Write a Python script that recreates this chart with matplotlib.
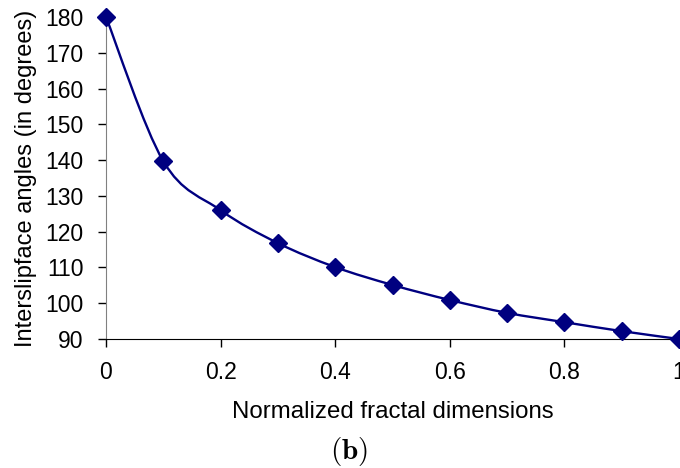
import numpy as np
import matplotlib
matplotlib.use('Agg')
from matplotlib import pyplot as plt
from matplotlib.path import Path
from matplotlib.patches import PathPatch

# values
fractal_dim = [0, 0.1, 0.2, 0.3, 0.4, 0.5, 0.6, 0.7, 0.8, 0.9, 1.0]
angles = [180, 139.7, 126.0, 116.8, 110.1, 105.1, 100.9, 97.3, 94.7, 92.2, 90]
xticks = [0, 0.2, 0.4, 0.6, 0.8, 1]
yticks = [90, 100, 110, 120, 130, 140, 150, 160, 170, 180]

plt.rcParams['font.family'] = ['Liberation Sans', 'DejaVu Sans']
plt.rcParams['mathtext.fontset'] = 'cm'

navy = '#000080'

fig = plt.figure(figsize=(6.8, 4.68), dpi=100)
ax = fig.add_axes([106/680, 1-339/468, 573/680, (339-17)/468])

# smooth curve (Catmull-Rom style, like a spreadsheet smoothed line)
x = np.array(fractal_dim)
y = np.array(angles)
verts = [(x[0], y[0])]
codes = [Path.MOVETO]
n = len(x)
for i in range(n-1):
    p0 = (x[max(i-1, 0)], y[max(i-1, 0)])
    p1 = (x[i], y[i])
    p2 = (x[i+1], y[i+1])
    p3 = (x[min(i+2, n-1)], y[min(i+2, n-1)])
    c1 = (p1[0] + (p2[0]-p0[0])/6, p1[1] + (p2[1]-p0[1])/6)
    c2 = (p2[0] - (p3[0]-p1[0])/6, p2[1] - (p3[1]-p1[1])/6)
    verts += [c1, c2, p2]
    codes += [Path.CURVE4]*3
patch = PathPatch(Path(verts, codes), facecolor='none', edgecolor=navy, lw=1.7, clip_on=False, zorder=3)
ax.add_patch(patch)

ax.plot(fractal_dim, angles, linestyle='none', marker='D', markersize=9,
        color=navy, clip_on=False, zorder=4)

ax.set_xlim(0, 1)
ax.set_ylim(90, 180)
ax.set_xticks(xticks)
ax.set_xticklabels(['0', '0.2', '0.4', '0.6', '0.8', '1'])
ax.set_yticks(yticks)

ax.spines['top'].set_visible(False)
ax.spines['right'].set_visible(False)
ax.spines['left'].set_color('#808080')
ax.spines['bottom'].set_color('black')
ax.tick_params(axis='both', direction='out', length=6, width=1, labelsize=16.5, colors='black', pad=10)
ax.tick_params(axis='x', pad=10)

ax.set_ylabel('Interslipface angles (in degrees)', fontsize=17, labelpad=6)
ax.set_xlabel('Normalized fractal dimensions', fontsize=17.3, labelpad=12)

fig.text(349/680, 1-451/468, r'$\mathbf{(b)}$', fontsize=21, ha='center', va='center')

fig.savefig('out.png', dpi=100)
